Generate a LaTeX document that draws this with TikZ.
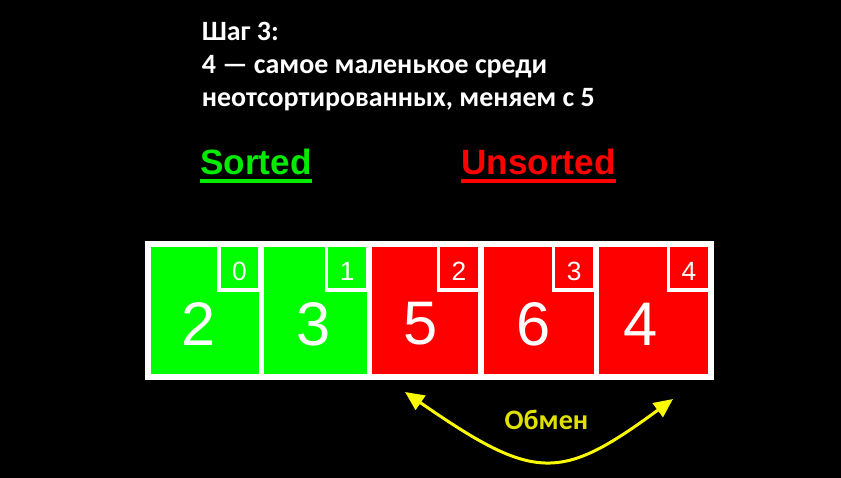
\documentclass[tikz,border=0pt]{standalone}
\usepackage{fontspec}
\setmainfont{Carlito}
\newfontfamily\arialfont{Liberation Sans}
\usepackage{xcolor}
\usepackage{tikz}
\usetikzlibrary{arrows.meta, positioning}

\definecolor{cellgreen}{RGB}{0,255,0}
\definecolor{cellred}{RGB}{255,0,0}
\definecolor{labelgreen}{RGB}{0,235,0}
\definecolor{swapyellow}{RGB}{250,250,0}

\begin{document}
\begin{tikzpicture}[
    cell/.style={draw=white, line width=0.11cm, inner sep=0pt, outer sep=0pt, minimum height=2.66cm},
    sortedcell/.style={cell, fill=cellgreen},
    unsortedcell/.style={cell, fill=cellred},
    indexbox/.style={draw=white, line width=0.066cm, inner sep=0pt, anchor=north east, minimum width=0.82cm, minimum height=0.89cm, text height=0.52cm, text depth=0cm, text=white, font=\arialfont\fontsize{15}{17}\selectfont},
    valuetext/.style={inner sep=0pt, text=white, font=\arialfont\fontsize{35}{40}\selectfont},
    titletext/.style={inner sep=0pt, align=left, text=white, font=\fontsize{15.9}{19}\selectfont\bfseries},
    parttext/.style={inner sep=0pt, anchor=base, font=\arialfont\fontsize{20}{24}\selectfont\bfseries},
    underline/.style={line width=0.08cm},
    swaparrow/.style={{Triangle[length=0.38cm, width=0.34cm]}-{Triangle[length=0.38cm, width=0.34cm]}, line width=0.06cm, swapyellow}
]

    \useasboundingbox[fill=black] (0, 0) rectangle (16.82, 9.56);

    % Base of a multi-line node is its last line.
    \node[titletext, anchor=base west] (title) at (4.03, 7.42) {Шаг 3:\\4 — самое маленькое среди\\неотсортированных, меняем с 5};

    % Part labels with thick underlines.
    \node[parttext, text=labelgreen] (sorted) at (5.12, 6.06) {Sorted};
    \node[parttext, text=cellred] (unsorted) at (10.77, 6.06) {Unsorted};
    \draw[underline, labelgreen] ([yshift=-0.13cm]sorted.base west) -- ([yshift=-0.13cm]sorted.base east);
    \draw[underline, cellred] ([yshift=-0.13cm]unsorted.base west) -- ([yshift=-0.13cm]unsorted.base east);

    % Array row: cell, index corner, value.
    \node[sortedcell, minimum width=2.274cm] (c1) at (4.097, 3.35) {};
    \node[indexbox] (i1) at (c1.north east) {0};
    \node[valuetext] (v1) at ([xshift=-0.12cm, yshift=-0.27cm]c1.center) {2};

    \node[sortedcell, minimum width=2.152cm] (c2) at (6.31, 3.35) {};
    \node[indexbox] (i2) at (c2.north east) {1};
    \node[valuetext] (v2) at ([xshift=-0.03cm, yshift=-0.27cm]c2.center) {3};

    \node[unsortedcell, minimum width=2.238cm] (c3) at (8.505, 3.35) {};
    \node[indexbox] (i3) at (c3.north east) {2};
    \node[valuetext] (v3) at ([xshift=-0.1cm, yshift=-0.27cm]c3.center) {5};

    \node[unsortedcell, minimum width=2.302cm] (c4) at (10.775, 3.35) {};
    \node[indexbox] (i4) at (c4.north east) {3};
    \node[valuetext] (v4) at ([xshift=-0.1cm, yshift=-0.27cm]c4.center) {6};

    \node[unsortedcell, minimum width=2.294cm] (c5) at (13.073, 3.35) {};
    \node[indexbox] (i5) at (c5.north east) {4};
    \node[valuetext] (v5) at ([xshift=-0.27cm, yshift=-0.27cm]c5.center) {4};

    % Swap of 5 and 4.
    \coordinate (swapL) at (8.10, 1.72);
    \coordinate (swapR) at (13.46, 1.58);
    \draw[swaparrow] (swapL) .. controls (10.70, -0.08) and (11.20, -0.08) .. (swapR);
    \node[inner sep=0pt, anchor=base, text=swapyellow!90!black, font=\fontsize{16}{19}\selectfont\bfseries] (swap) at (10.93, 0.96) {Обмен};

\end{tikzpicture}
\end{document}
